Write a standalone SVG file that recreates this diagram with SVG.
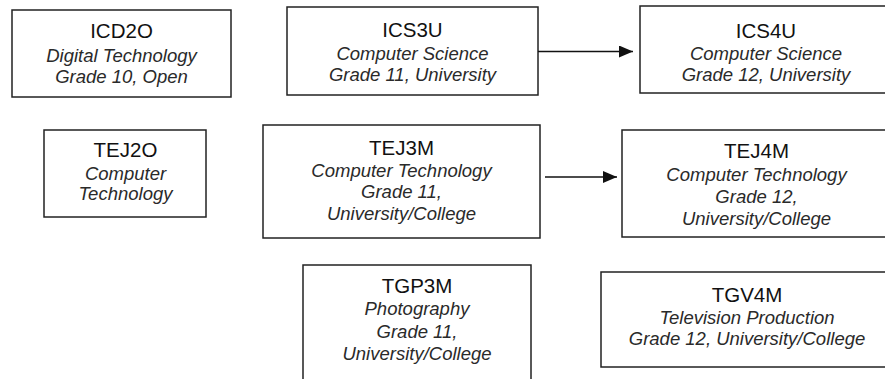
<svg xmlns="http://www.w3.org/2000/svg" width="885" height="379" viewBox="0 0 885 379">
<style>
.box{fill:#fff;stroke:#222;stroke-width:1.5}
.t{font-family:"Liberation Sans",Arial,sans-serif;font-size:20.5px;fill:#111;text-anchor:middle}
.s{font-family:"Liberation Sans",Arial,sans-serif;font-size:18.5px;font-style:italic;fill:#2a2a2a;text-anchor:middle}
.c{stroke:#111;stroke-width:1.5;fill:none}
</style>
<defs>
<marker id="ah" markerUnits="userSpaceOnUse" markerWidth="14" markerHeight="12" refX="14" refY="6" orient="auto">
<path d="M0,0 L14,6 L0,12 Z" fill="#111"/>
</marker>
</defs>
<rect width="885" height="379" fill="#fff"/>
<g id="ICD2O">
<rect class="box" x="12" y="10" width="219" height="87"/>
<text class="t" x="121.5" y="38">ICD2O</text>
<text class="s" x="121.5" y="62">Digital Technology</text>
<text class="s" x="121.5" y="83">Grade 10, Open</text>
</g>
<g id="ICS3U">
<rect class="box" x="287" y="7" width="251" height="88"/>
<text class="t" x="412.5" y="37">ICS3U</text>
<text class="s" x="412.5" y="60">Computer Science</text>
<text class="s" x="412.5" y="81">Grade 11, University</text>
</g>
<g id="ICS4U">
<rect class="box" x="640" y="6" width="260" height="87"/>
<text class="t" x="766" y="38">ICS4U</text>
<text class="s" x="766" y="60">Computer Science</text>
<text class="s" x="766" y="81">Grade 12, University</text>
</g>
<g id="TEJ2O">
<rect class="box" x="44" y="130" width="162" height="87"/>
<text class="t" x="125.5" y="157">TEJ2O</text>
<text class="s" x="125.5" y="180">Computer</text>
<text class="s" x="125.5" y="200">Technology</text>
</g>
<g id="TEJ3M">
<rect class="box" x="263" y="125" width="277" height="113"/>
<text class="t" x="401.5" y="155">TEJ3M</text>
<text class="s" x="401.5" y="177">Computer Technology</text>
<text class="s" x="401.5" y="198">Grade 11,</text>
<text class="s" x="401.5" y="220">University/College</text>
</g>
<g id="TEJ4M">
<rect class="box" x="622" y="130" width="280" height="107"/>
<text class="t" x="756.5" y="158">TEJ4M</text>
<text class="s" x="756.5" y="181">Computer Technology</text>
<text class="s" x="756.5" y="203">Grade 12,</text>
<text class="s" x="756.5" y="225">University/College</text>
</g>
<g id="TGP3M">
<rect class="box" x="303" y="265" width="228" height="130"/>
<text class="t" x="417" y="293">TGP3M</text>
<text class="s" x="417" y="315">Photography</text>
<text class="s" x="417" y="338">Grade 11,</text>
<text class="s" x="417" y="360">University/College</text>
</g>
<g id="TGV4M">
<rect class="box" x="601" y="272" width="300" height="95"/>
<text class="t" x="747" y="302">TGV4M</text>
<text class="s" x="747" y="324">Television Production</text>
<text class="s" x="747" y="345">Grade 12, University/College</text>
</g>
<g id="connectors">
<line class="c" x1="538" y1="51.5" x2="633" y2="51.5" marker-end="url(#ah)"/>
<line class="c" x1="545" y1="177" x2="617" y2="177" marker-end="url(#ah)"/>
</g>
</svg>
